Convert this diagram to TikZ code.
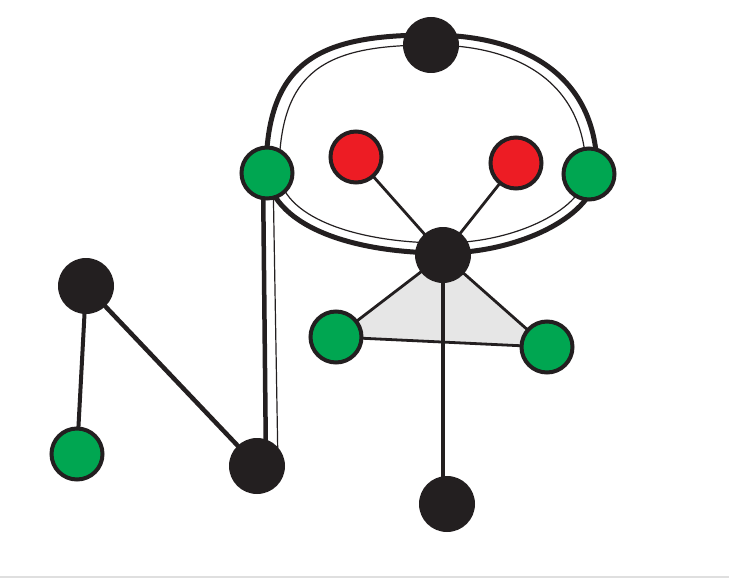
\documentclass[tikz,border=0pt]{standalone}
\usepackage{tikz}
\usetikzlibrary{calc}
\definecolor{ink}{RGB}{35,31,32}
\definecolor{leaf}{RGB}{0,166,81}
\definecolor{berry}{RGB}{237,28,36}
\definecolor{trifill}{RGB}{230,230,230}
\pgfdeclarelayer{edges}
\pgfsetlayers{edges,main}
\tikzset{
	blob/.style={circle, fill=ink, minimum size=56pt, inner sep=0pt},
	greenblob/.style={circle, draw=ink, line width=4pt, fill=leaf, minimum size=51pt, inner sep=0pt},
	redblob/.style={greenblob, fill=berry},
	fat/.style={draw=ink, line width=4.5pt},
	slim/.style={draw=ink, line width=1.2pt},
	mid/.style={draw=ink, line width=2.8pt}
}

\begin{document}
\begin{tikzpicture}[x=1pt, y=-1pt]
			%%%%% START %%%%%
			\useasboundingbox (0,0) rectangle (729,578);
			
			\node[blob] (top) at (431,45) {};
			\node[greenblob] (gl) at (267,173) {};
			\node[redblob] (rl) at (356,157) {};
			\node[redblob] (rr) at (516,163) {};
			\node[greenblob] (gr) at (589,174) {};
			\node[blob] (hub) at (443,255) {};
			\node[greenblob] (tl) at (336,337) {};
			\node[greenblob] (tr) at (547,347) {};
			\node[blob] (foot) at (447,504) {};
			
			\node[blob] (nw) at (86,286) {};
			\node[greenblob] (sw) at (77,454) {};
			\node[blob] (se) at (257,466) {};
			
			\begin{pgfonlayer}{edges}
			\fill[trifill] (hub.center) -- (tl.center) -- (tr.center) -- cycle;
			\draw[mid, line join=round] (hub.center) -- (tl.center) -- (tr.center) -- cycle;
			\draw[fat, line width=4pt] (hub.center) -- (hub.center |- foot.center);
			\draw[mid] (rl.center) -- (hub.center);
			\draw[mid] (rr.center) -- (hub.center);
			
			% loop, outer and inner
			\draw[fat, line width=5pt] ($(gl.center)+(-1,0)$) .. controls +(0,-113) and +(-111,0) .. ($(top.center)+(0,-10)$)
				.. controls +(99,0) and +(0,-90) .. ($(gr.center)+(8,-4)$)
				.. controls +(0,45) and +(77,0) .. ($(hub.center)+(0,-2)$)
				.. controls +(-83,0) and +(9,57) .. ($(gl.center)+(-1,0)$);
			\draw[slim] ($(gl.center)+(12,2)$) .. controls +(0,-105) and +(-106,0) .. (top.center)
				.. controls +(94,0) and +(0,-84) .. ($(gr.center)+(-3,-2)$)
				.. controls +(0,35) and +(75,0) .. ($(hub.center)+(0,-12)$)
				.. controls +(-81,0) and +(7,45) .. ($(gl.center)+(12,2)$);
			
			\draw[fat] ($(gl.center)+(-4,0)$) -- ($(se.center)+(9,0)$);
			\draw[slim] ($(gl.center)+(6,0)$) -- ($(se.center)+(21,0)$);
			
			\draw[fat, line width=4pt] (nw.center) -- (sw.center);
			\draw[fat] (nw.center) -- (se.center);
			\end{pgfonlayer}
			
			\draw[gray!25, line width=1.5pt] (0,577) -- (729,577);
			%%%%% END %%%%%
\end{tikzpicture}
\end{document}
